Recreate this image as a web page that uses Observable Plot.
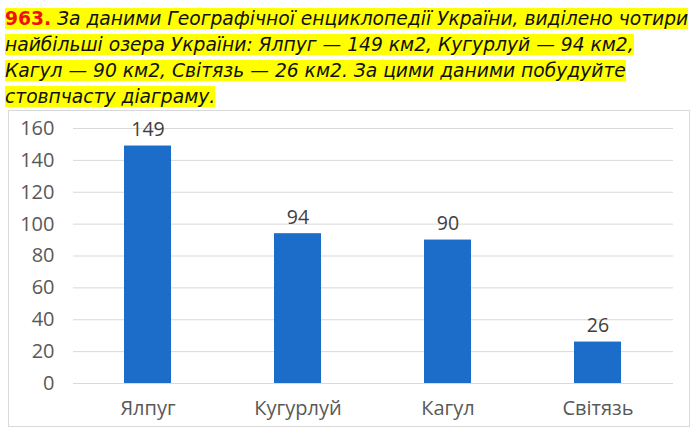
<!DOCTYPE html>
<html>
<head>
<meta charset="utf-8">
<script src="https://cdn.jsdelivr.net/npm/d3@7"></script>
<script src="https://cdn.jsdelivr.net/npm/@observablehq/plot@0.6"></script>
<style>
  html, body { margin: 0; padding: 0; background: #fff; width: 695px; height: 434px; overflow: hidden; }
  #title { position: absolute; left: 5px; top: 6px; width: 690px; font-family: "DejaVu Sans", Verdana, sans-serif; font-style: italic; font-size: 18.7px; line-height: 26px; color: #111; white-space: nowrap; }
  #title span.hl { background: #ffff00; }
  #title b { color: #f01010; font-style: normal; }
  #box { position: absolute; left: 8px; top: 110px; width: 682px; height: 317px; border: 1px solid #d9d9d9; box-sizing: border-box; }
  #box svg { display: block; }
</style>
</head>
<body>
<div id="title"><span class="hl"><b>963.</b> За даними Географічної енциклопедії України, виділено чотири<br>найбільші озера України: Ялпуг — 149 км2, Кугурлуй — 94 км2,<br>Кагул — 90 км2, Світязь — 26 км2. За цими даними побудуйте<br>стовпчасту діаграму.</span></div>
<div id="box"></div>
<script>
const lakes = ["Ялпуг", "Кугурлуй", "Кагул", "Світязь"];
const areas = [149, 94, 90, 26];
const yTicks = [0, 20, 40, 60, 80, 100, 120, 140, 160];

const data = lakes.map((name, i) => ({name, area: areas[i]}));

const chart = Plot.plot({
  width: 680,
  height: 315,
  marginTop: 17,
  marginLeft: 64,
  marginRight: 16,
  marginBottom: 43,
  style: {fontFamily: "'Open Sans', 'Liberation Sans', sans-serif", fontSize: "20px", color: "#595959", background: "transparent"},
  x: {domain: lakes, paddingInner: 0.685, paddingOuter: 0.3425, label: null, tickSize: 0, tickPadding: 17},
  y: {domain: [0, 160], ticks: yTicks, label: null, tickSize: 0, tickPadding: 19},
  marks: [
    Plot.gridY(yTicks, {stroke: "#d9d9d9", strokeOpacity: 1, strokeWidth: 1}),
    Plot.barY(data, {x: "name", y: "area", fill: "#1b6dc9"}),
    Plot.text(data, {x: "name", y: "area", text: d => String(d.area), dy: -16, fill: "#404040", fontSize: 19.5})
  ]
});
document.getElementById("box").appendChild(chart);
</script>
</body>
</html>
